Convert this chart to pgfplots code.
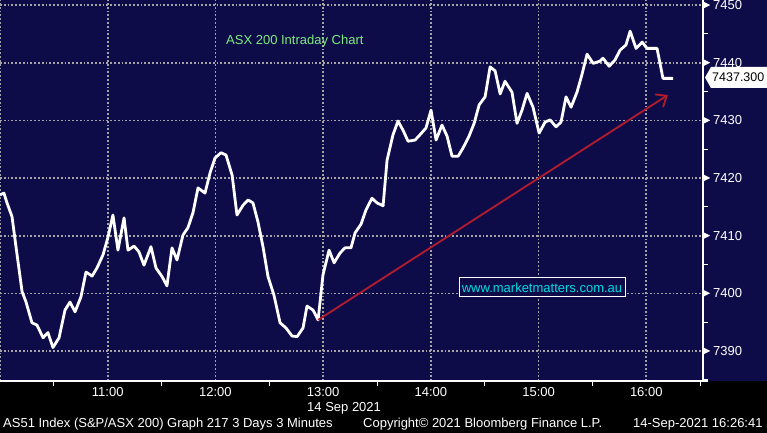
\documentclass[border=0pt]{standalone}
\usepackage{pgfplots}
\pgfplotsset{compat=1.18}
\usepackage{fontspec}
\setmainfont{Liberation Sans}
\usetikzlibrary{arrows.meta}
\definecolor{bgnavy}{RGB}{14,12,72}
\definecolor{gridgray}{RGB}{165,165,165}
\definecolor{arrowred}{RGB}{180,28,45}
\definecolor{titlegreen}{RGB}{125,235,125}
\definecolor{wwwcyan}{RGB}{0,220,230}
\newcommand{\tri}{\tikz[baseline={(0,-4.6bp)}]\fill[white] (0,-3.5bp) -- (7bp,0) -- (0,3.5bp) -- cycle;\hspace{3bp}}
\newcommand{\fnt}{\fontsize{13bp}{15bp}\selectfont}
\begin{document}
\begin{tikzpicture}[x=1bp,y=1bp]
\fill[black] (0,-52) rectangle (767,381);
\fill[bgnavy] (0,0) rectangle (767,381);
\begin{axis}[at={(0,0)}, anchor=south west, scale only axis,
  width=703bp, height=381bp,
  xmin=0, xmax=391.6, ymin=7384.8, ymax=7450.9,
  axis line style={draw=none},
  xtick={0,60,...,360},
  xticklabels={,11:00,12:00,13:00,14:00,15:00,16:00},
  minor xtick={30,90,...,390},
  ytick={7390,7400,...,7450},
  yticklabels={\tri7390,\tri7400,\tri7410,\tri7420,\tri7430,\tri7440,\tri7450},
  minor ytick={7385,7395,...,7445},
  yticklabel pos=right, ytick pos=right, xtick pos=bottom,
  major tick length=0pt, minor tick length=5bp, tick align=outside,
  tick style={white, line width=1bp},
  grid=major,
  major grid style={gridgray, line width=1.6bp, dash pattern=on 1.8bp off 2bp},
  ticklabel style={font=\fnt, text=white},
  xticklabel style={yshift=-3bp},
  yticklabel style={anchor=west, inner xsep=0pt},
]
\addplot[white, line width=2.8bp, line join=round] coordinates {
(0,7417.1) (2.2,7417.4) (3.9,7415.7) (6.7,7413.3) (8.9,7408.1) (12.3,7400.3)
(14.5,7398.5) (17.8,7394.9) (20.6,7394.5) (24.0,7392.3) (26.7,7393.2) (29.5,7390.6)
(32.9,7392.3) (36.2,7397.1) (39.0,7398.5) (41.8,7396.8) (45.1,7399.4) (47.9,7403.7)
(51.3,7403.0) (54.0,7404.4) (57.4,7406.7) (60.2,7409.8) (62.9,7413.6) (65.7,7407.5)
(69.1,7413.1) (71.3,7407.5) (74.7,7408.2) (77.4,7407.2) (80.2,7404.9) (84.1,7408.1)
(86.9,7404.4) (90.3,7402.9) (93.0,7401.3) (95.8,7407.9) (98.6,7405.8) (101.9,7410.1)
(104.7,7411.4) (107.5,7414.0) (110.3,7418.3) (114.2,7417.4) (117.0,7420.9) (119.8,7423.5)
(123.1,7424.4) (125.9,7424.0) (129.3,7420.5) (132.0,7413.6) (135.4,7415.3) (138.2,7416.2)
(140.9,7415.7) (143.7,7412.4) (146.5,7408.1) (149.3,7402.9) (152.6,7399.7) (156.0,7394.9)
(159.3,7394.0) (162.7,7392.6) (165.5,7392.5) (168.8,7394.0) (171.0,7397.8) (174.4,7397.1)
(177.2,7395.4) (179.9,7403.2) (183.3,7407.5) (186.1,7405.3) (189.4,7407.0) (192.2,7407.9)
(195.5,7407.9) (197.8,7410.5) (201.1,7412.0) (203.9,7414.5) (207.2,7416.5) (210.0,7415.7)
(213.4,7415.2) (215.6,7423.1) (218.9,7427.5) (221.7,7429.9) (224.5,7428.3) (227.3,7426.4)
(231.2,7426.6) (233.9,7427.5) (237.3,7428.7) (240.1,7431.8) (242.9,7426.6) (246.2,7429.2)
(249.0,7427.3) (251.8,7423.8) (255.2,7423.8) (257.9,7425.2) (261.3,7427.3) (264.1,7429.5)
(266.9,7432.7) (270.2,7434.1) (273.0,7439.3) (275.8,7438.6) (278.6,7434.6) (281.3,7436.8)
(285.2,7434.9) (288.0,7429.5) (290.8,7431.8) (293.6,7434.7) (296.9,7432.3) (300.3,7427.8)
(303.6,7429.7) (306.4,7430.1) (309.7,7428.9) (312.5,7429.7) (315.3,7434.1) (318.1,7432.3)
(321.4,7434.9) (324.2,7438.0) (327.0,7441.5) (330.4,7439.9) (334.3,7440.3) (335.9,7440.8)
(339.3,7439.4) (342.6,7440.5) (345.4,7442.2) (348.7,7443.1) (351.0,7445.5) (354.3,7442.5)
(357.7,7443.6) (360.4,7442.5) (366.0,7442.5) (369.3,7437.3) (374.9,7437.3)
};
\draw[arrowred, line width=1.8bp, -{Straight Barb[length=9bp,width=15bp,line width=1.8bp]}]
  (axis cs:177.2,7395.4) -- (axis cs:372,7434.4);
\end{axis}
\draw[white, line width=1.2bp] (703,381) -- (703,0) -- (0,0);
\draw[white, line width=1.2bp] (703,0) -- (708,0);
\node[anchor=west, inner sep=0pt, text=titlegreen, font=\fnt] at (226,340) {ASX 200 Intraday Chart};
\node[draw=white, line width=1bp, fill=bgnavy, text=wwwcyan, font=\fnt, minimum width=166bp, minimum height=19bp, inner sep=0pt] at (542,93.5) {www.marketmatters.com.au};
\fill[white] (705,303.5) -- (711,314) -- (767,314) -- (767,293) -- (711,293) -- cycle;
\node[anchor=west, inner sep=0pt, text=black, font=\fontsize{12.5bp}{15bp}\selectfont] at (712,303.5) {7437.300};
\node[anchor=west, inner sep=0pt, text=white, font=\fnt] at (307,-27) {14 Sep 2021};
\node[anchor=west, inner sep=0pt, text=white, font=\fnt] at (3,-43) {AS51 Index (S\&P/ASX 200) Graph 217 3 Days 3 Minutes};
\node[anchor=west, inner sep=0pt, text=white, font=\fnt] at (363,-43) {Copyright© 2021 Bloomberg Finance L.P.};
\node[anchor=west, inner sep=0pt, text=white, font=\fnt] at (633,-43) {14-Sep-2021 16:26:41};
\pgfresetboundingbox
\useasboundingbox (0,-52) rectangle (767,381);
\end{tikzpicture}
\end{document}
